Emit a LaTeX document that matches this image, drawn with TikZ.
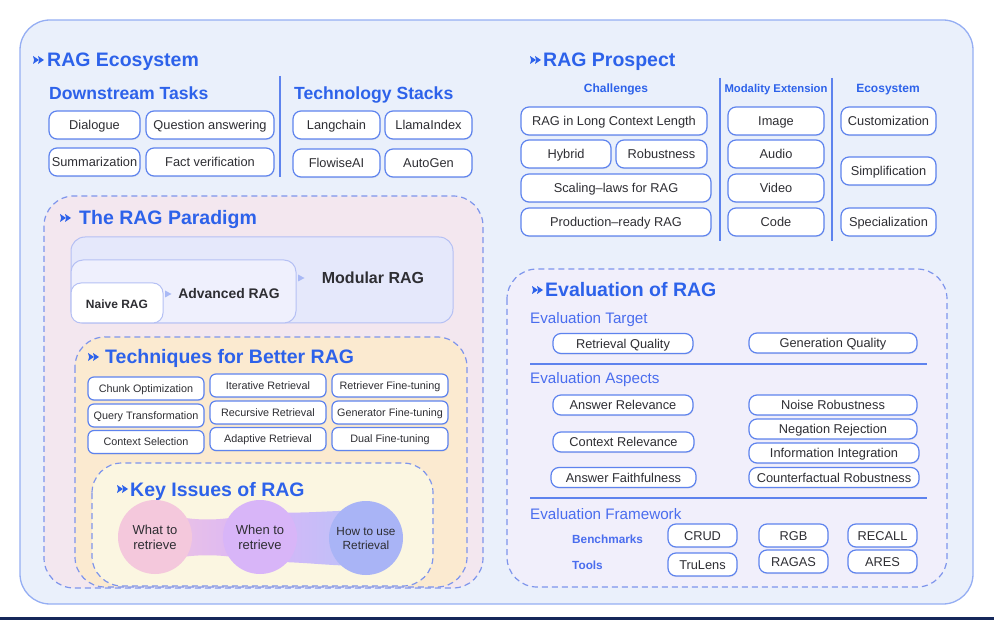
\documentclass[tikz,border=0pt]{standalone}
\usepackage{fontspec}
\setmainfont{Liberation Sans}
\usetikzlibrary{calc,shadows}
\definecolor{ragblue}{HTML}{2D62EA}
\definecolor{ragline}{HTML}{5E83EE}
\definecolor{ragouter}{HTML}{EAF0FB}
\definecolor{outerline}{HTML}{95AEF3}
\definecolor{dashline}{HTML}{7E95EC}
\definecolor{parapink}{HTML}{F3E7EF}
\definecolor{techorange}{HTML}{FBEAD0}
\definecolor{keyyellow}{HTML}{FBF6E1}
\definecolor{evalfill}{HTML}{F1EFFB}
\definecolor{modfill}{HTML}{E5E8FB}
\definecolor{modline}{HTML}{B5C0F4}
\definecolor{advfill}{HTML}{EFF0FD}
\definecolor{tipblue}{HTML}{A9B9F5}
\definecolor{txtgray}{HTML}{2E2E33}
\definecolor{evblue}{HTML}{4A6DEE}
\definecolor{cpink}{HTML}{F4C8DC}
\definecolor{cpurple}{HTML}{D8B5F8}
\definecolor{cblue}{HTML}{A9B4F6}
\definecolor{navy}{HTML}{15285A}

\begin{document}
\begin{tikzpicture}[x=1pt,y=-1pt,
  capmid/.style={text height=#1,text depth=0pt},
  sectitle/.style={anchor=west,inner sep=0,capmid=14pt,text=ragblue,font=\fontsize{19.5}{22}\selectfont\bfseries},
  subtitle/.style={anchor=west,inner sep=0,capmid=12.7pt,text=ragblue,font=\fontsize{17.6}{20}\selectfont\bfseries},
  colhead/.style={inner sep=0,capmid=8.6pt,text=ragblue,font=\fontsize{12}{14}\selectfont\bfseries},
  evhead/.style={anchor=west,inner sep=0,capmid=10.9pt,text=evblue,font=\fontsize{15.2}{18}\selectfont},
  evsub/.style={anchor=west,inner sep=0,capmid=8.5pt,text=evblue,font=\fontsize{11.8}{14}\selectfont\bfseries},
  tag/.style={draw=ragline,fill=white,line width=1.2pt,rounded corners=8,inner sep=0,capmid=9.2pt,text=txtgray,
    font=\fontsize{12.8}{15}\selectfont,drop shadow={opacity=0.12,shadow xshift=0.5pt,shadow yshift=-1.2pt}},
  techtag/.style={tag,rounded corners=6,minimum width=116,minimum height=23,capmid=7.8pt,font=\fontsize{10.8}{13}\selectfont},
  evtag/.style={tag,minimum height=20},
  paratext/.style={inner sep=0,text=txtgray},
  divider/.style={ragline,line width=1.5pt},
  dashbox/.style={draw=dashline,dash pattern=on 6pt off 4pt,line width=1.2pt,rounded corners=30},
  keycircle/.style={circle,minimum size=74,inner sep=0,align=center,text=txtgray},
  pics/secmark/.style={code={
    \fill[ragblue] (-6,-4) -- (0,0) -- (-6,4) -- (-4.9,0) -- cycle;
    \fill[ragblue] (-1,-4) -- (5,0) -- (-1,4) -- (0.1,0) -- cycle;}}]
\useasboundingbox (0,0) rectangle (994,620);
\fill[navy] (0,617) rectangle (994,620);

% outer frame
\draw[fill=ragouter,draw=outerline,line width=1.3pt,rounded corners=30] (20,20) rectangle (973,604);

% RAG Ecosystem
\pic at (39,60) {secmark};
\node[sectitle] (eco) at (47,60) {RAG Ecosystem};
\node[subtitle] (down) at (49,93) {Downstream Tasks};
\node[subtitle] (stack) at (294,93) {Technology Stacks};
\draw[divider] (280,76) -- (280,177);
\foreach \n/\x/\y/\w/\t in {dlg/94.5/125/91/Dialogue, qa/210/125/128/Question answering,
    summ/94.5/162/91/Summarization, fact/210/162/128/Fact verification,
    lang/336.5/125/87/Langchain, llama/428.5/125/87/LlamaIndex,
    flow/336.5/163/87/FlowiseAI, autogen/428.5/163/87/AutoGen}
  \node[tag,minimum width=\w,minimum height=28] (\n) at (\x,\y) {\t};

% RAG Prospect
\pic at (536,60) {secmark};
\node[sectitle] (prosp) at (543,60) {RAG Prospect};
\node[colhead] (chal) at (616,88) {Challenges};
\node[colhead,font=\fontsize{11.3}{14}\selectfont\bfseries] (modal) at (776,88) {Modality Extension};
\node[colhead] (ecosys) at (888,88) {Ecosystem};
\draw[divider] (720,78) -- (720,241);
\draw[divider] (832,78) -- (832,241);
\foreach \n/\x/\y/\w/\t in {longctx/614/121/186/RAG in Long Context Length, hybrid/566/154/90/Hybrid,
    robust/661.5/154/91/Robustness, scaling/616/188/190/Scaling--laws for RAG,
    prod/616/222/190/Production--ready RAG,
    image/776/121/96/Image, audio/776/154/96/Audio, video/776/188/96/Video, code/776/222/96/Code,
    custom/888.5/121/95/Customization, simpl/888.5/171/95/Simplification, spec/888.5/222/95/Specialization}
  \node[tag,minimum width=\w,minimum height=28] (\n) at (\x,\y) {\t};

% The RAG Paradigm
\draw[dashbox,fill=parapink] (44,196) rectangle (483,588);
\pic at (66,218) {secmark};
\node[sectitle] (para) at (79,218) {The RAG Paradigm};
\draw[draw=modline,fill=modfill,line width=1pt,rounded corners=14] (71,237) rectangle (453,323);
\draw[draw=modline,fill=advfill,line width=1pt,rounded corners=12] (71,260) rectangle (296,323);
\draw[draw=modline,fill=white,line width=1pt,rounded corners=10] (71,283) rectangle (163,323);
\node[paratext,capmid=11.5pt,font=\fontsize{16}{19}\selectfont\bfseries] (modular) at (373,278) {Modular RAG};
\node[paratext,capmid=10pt,font=\fontsize{13.9}{16}\selectfont\bfseries] (advanced) at (229,294) {Advanced RAG};
\node[paratext,capmid=8.6pt,font=\fontsize{12}{14}\selectfont\bfseries] (naive) at (117,304) {Naive RAG};
\fill[tipblue] (165,290.5) -- (171.5,294) -- (165,297.5) -- cycle;
\fill[tipblue] (298,274.5) -- (304.5,278) -- (298,281.5) -- cycle;

% Techniques for Better RAG
\draw[dashbox,fill=techorange] (75,337) rectangle (467,587);
\pic at (94,357) {secmark};
\node[sectitle] (tech) at (105,357) {Techniques for Better RAG};
\foreach \n/\x/\y/\t in {chunk/146/388.5/Chunk Optimization, query/146/415.5/Query Transformation,
    ctxsel/146/442/Context Selection, iter/268/385.5/Iterative Retrieval, recur/268/412.5/Recursive Retrieval,
    adapt/268/439/Adaptive Retrieval, retft/390/385.5/Retriever Fine-tuning,
    genft/390/412.5/Generator Fine-tuning, dualft/390/439/Dual Fine-tuning}
  \node[techtag] (\n) at (\x,\y) {\t};

% Key Issues of RAG
\draw[dashbox,fill=keyyellow] (92,463) rectangle (433,586);
\pic at (123,489) {secmark};
\node[sectitle] (key) at (130,489) {Key Issues of RAG};
\coordinate (k1) at (155,537);
\coordinate (k2) at (260,537);
\coordinate (k3) at (366,538);
\shade[left color=cpink!80!cpurple,right color=cpurple] ($(k1)+(0,-25)$) .. controls (195,522) and (220,522) .. ($(k2)+(0,-25)$)
  -- ($(k2)+(0,25)$) .. controls (220,553) and (195,553) .. ($(k1)+(0,25)$) -- cycle;
\shade[left color=cpurple,right color=cblue!80!white] ($(k2)+(0,-25)$) .. controls (300,514) and (325,511) .. ($(k3)+(0,-28)$)
  -- ($(k3)+(0,28)$) .. controls (325,566) and (300,561) .. ($(k2)+(0,25)$) -- cycle;
\node[keycircle,fill=cpink,font=\fontsize{13}{15}\selectfont] (what) at (k1) {What to\\retrieve};
\node[keycircle,fill=cpurple,font=\fontsize{13}{15}\selectfont] (when) at (k2) {When to\\retrieve};
\node[keycircle,fill=cblue,font=\fontsize{11.8}{14}\selectfont] (how) at (k3) {How to use\\Retrieval};

% Evaluation of RAG
\draw[dashbox,fill=evalfill] (507,269) rectangle (947,587);
\pic at (538,290) {secmark};
\node[sectitle] (evalt) at (545,290) {Evaluation of RAG};
\node[evhead] (target) at (530,318) {Evaluation Target};
\node[evtag,minimum width=140] (retq) at (623,343.5) {Retrieval Quality};
\node[evtag,minimum width=168] (genq) at (833,343) {Generation Quality};
\draw[divider] (530,364) -- (927,364);
\node[evhead] (aspects) at (530,378) {Evaluation Aspects};
\foreach \n/\x/\y/\w/\t in {ansrel/623/405/140/Answer Relevance, ctxrel/623.5/442/141/Context Relevance,
    ansfaith/623.5/477.5/145/Answer Faithfulness, noise/833/405/168/Noise Robustness,
    negat/833/429/168/Negation Rejection, info/834/453/170/Information Integration,
    counter/834/477.5/170/Counterfactual Robustness}
  \node[evtag,minimum width=\w] (\n) at (\x,\y) {\t};
\draw[divider] (530,498) -- (927,498);
\node[evhead] (frame) at (530,514) {Evaluation Framework};
\node[evsub] (bench) at (572,539) {Benchmarks};
\node[evsub] (tools) at (572,565) {Tools};
\foreach \n/\x/\y/\t in {crud/702.5/535.5/CRUD, rgb/793.5/535.5/RGB, recall/882.5/535.5/RECALL,
    trulens/702.5/564.5/TruLens, ragas/793.5/561.5/RAGAS, ares/882.5/561.5/ARES}
  \node[tag,minimum width=69,minimum height=23] (\n) at (\x,\y) {\t};
\end{tikzpicture}
\end{document}
